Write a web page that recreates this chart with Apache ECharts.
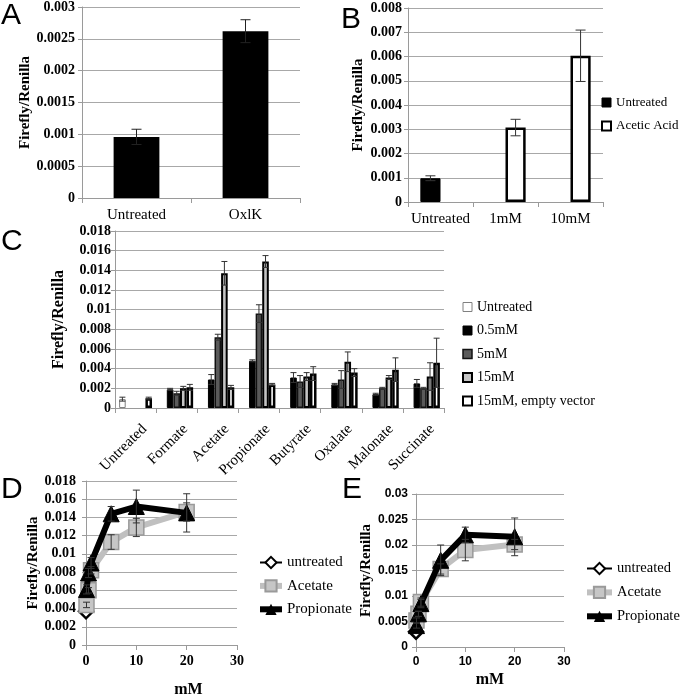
<!DOCTYPE html>
<html><head><meta charset="utf-8">
<script src="https://cdn.jsdelivr.net/npm/echarts@6/dist/echarts.min.js"></script>
<style>html,body{margin:0;padding:0;background:#fff}#c{width:680px;height:699px}</style>
</head><body><div id="c"></div>
<script>
// ---------- Panel A ----------
const aCategories = ['Untreated', 'OxlK'];
const aValues = [0.00096, 0.00262];
const aErrors = [0.00012, 0.00018];
// ---------- Panel B ----------
const bCategories = ['Untreated', '1mM', '10mM'];
const bUntreated = [0.00098, null, null];
const bUntreatedErr = [0.0001, null, null];
const bAcetic = [null, 0.00307, 0.00603];
const bAceticErr = [null, 0.00034, 0.00106];
// ---------- Panel C ----------
const cCategories = ['Untreated', 'Formate', 'Acetate', 'Propionate', 'Butyrate', 'Oxalate', 'Malonate', 'Succinate'];
const cSeriesNames = ['Untreated', '0.5mM', '5mM', '15mM', '15mM, empty vector'];
const cUntreated = [0.0009, null, null, null, null, null, null, null];
const cUntreatedErr = [0.0002, null, null, null, null, null, null, null];
const c05 = [null, 0.0019, 0.0029, 0.0048, 0.0031, 0.0024, 0.0014, 0.0025];
const c05Err = [null, 0.0001, 0.0005, 0.0001, 0.0005, 0.0001, 0.0001, 0.0004];
const c5 = [null, 0.0015, 0.0072, 0.0096, 0.0027, 0.0029, 0.0020, 0.0020];
const c5Err = [null, 0.0002, 0.0003, 0.0009, 0.0006, 0.0009, 0.0001, 0.0001];
const c15 = [null, 0.0020, 0.0137, 0.0149, 0.0032, 0.0047, 0.0031, 0.0032];
const c15Err = [null, 0.0002, 0.0012, 0.0006, 0.0004, 0.0010, 0.0002, 0.0014];
const cEmpty = [0.0010, 0.0021, 0.0021, 0.0024, 0.0035, 0.0036, 0.0039, 0.0046];
const cEmptyErr = [0.0001, 0.0003, 0.0002, 0.0001, 0.0007, 0.0004, 0.0012, 0.0025];
// ---------- Panel D ----------
const dX = [0.1, 0.5, 1, 5, 10, 20];
const dUntreatedX = [0];
const dUntreated = [0.0037];
const dAcetate = [0.0044, 0.0060, 0.0082, 0.0113, 0.0129, 0.0146];
const dAcetateErr = [0.0003, 0.0003, 0.0004, 0.0008, 0.0010, 0.0010];
const dPropionate = [0.0061, 0.0079, 0.0090, 0.0144, 0.0152, 0.0145];
const dPropionateErr = [0.0005, 0.0005, 0.0006, 0.0008, 0.0018, 0.0021];
// ---------- Panel E ----------
const eX = [0.1, 0.5, 1, 5, 10, 20];
const eUntreatedX = [0];
const eUntreated = [0.0030];
const eAcetate = [0.0052, 0.0065, 0.0088, 0.0153, 0.0190, 0.0201];
const eAcetateErr = [0.0005, 0.0005, 0.0008, 0.0010, 0.0021, 0.0010];
const ePropionate = [0.0042, 0.0065, 0.0085, 0.0170, 0.0220, 0.0216];
const ePropionateErr = [0.0005, 0.0005, 0.0008, 0.0030, 0.0015, 0.0037];

const SERIF = "'Liberation Serif','Times New Roman',serif";
const SANS = "'Liberation Sans',Arial,sans-serif";
const AXIS_GRAY = '#9a9a9a';
const GRID_GRAY = '#a8a8a8';

const fmt = v => String(+v.toFixed(6));

function yAxisCfg(grid, max, interval, o) {
  return {
    type: 'value', gridIndex: grid, min: 0, max: max, interval: interval,
    name: 'Firefly/Renilla', nameLocation: 'middle', nameGap: o.nameGap,
    nameTextStyle: {fontFamily: SERIF, fontWeight: 'bold', fontSize: o.nameSize || 15, color: '#000'},
    axisLine: {show: true, lineStyle: {color: AXIS_GRAY, width: 1}},
    axisTick: {show: true, length: 4, lineStyle: {color: AXIS_GRAY}},
    splitLine: {show: true, lineStyle: {color: GRID_GRAY, width: 1}},
    axisLabel: {fontFamily: o.font || SERIF, fontWeight: 'bold', fontSize: o.size || 14, color: '#000', margin: o.margin, formatter: fmt}
  };
}
function catAxisCfg(grid, data, o) {
  return {
    type: 'category', gridIndex: grid, data: data, boundaryGap: true,
    axisLine: {show: true, lineStyle: {color: AXIS_GRAY, width: 1}},
    axisTick: {show: true, length: 5, alignWithLabel: false, lineStyle: {color: AXIS_GRAY}},
    splitLine: {show: false},
    axisLabel: Object.assign({fontFamily: SERIF, fontSize: 15, color: '#000', margin: 10, interval: 0}, o || {})
  };
}
function valXAxisCfg(grid, o) {
  return {
    type: 'value', gridIndex: grid, min: 0, max: 30, interval: 10,
    name: 'mM', nameLocation: 'middle', nameGap: o.nameGap,
    nameTextStyle: {fontFamily: SERIF, fontWeight: 'bold', fontSize: 16, color: '#000', padding: o.namePad || 0},
    axisLine: {show: true, onZero: false, lineStyle: {color: AXIS_GRAY, width: 1}},
    axisTick: {show: true, length: 5, lineStyle: {color: AXIS_GRAY}},
    splitLine: {show: false},
    axisLabel: {fontFamily: o.font || SERIF, fontWeight: 'bold', fontSize: o.size || 14, color: '#000', margin: 9}
  };
}

function errData(xs, values, errs, slot, n, frac) {
  const out = [];
  values.forEach((v, i) => {
    if (v == null || errs[i] == null) return;
    out.push([xs ? xs[i] : i, v, errs[i], slot, n, frac]);
  });
  return out;
}
function errSeries(xi, data, cap, color, width) {
  return {
    type: 'custom', xAxisIndex: xi, yAxisIndex: xi, z: 10, clip: false, silent: true,
    data: data,
    renderItem: function (params, api) {
      const x = api.value(0), y = api.value(1), e = api.value(2);
      const slot = api.value(3), n = api.value(4), frac = api.value(5);
      const p = api.coord([x, y]);
      let cx = p[0];
      if (n > 0) {
        const bw = api.size([1, 0])[0];
        const gw = bw * frac;
        cx = p[0] - gw / 2 + (slot + 0.5) * gw / n;
      }
      const yt = api.coord([x, y + e])[1];
      const yb = api.coord([x, y - e])[1];
      const st = {stroke: color, lineWidth: width};
      return {type: 'group', children: [
        {type: 'line', shape: {x1: cx, y1: yt, x2: cx, y2: yb}, style: st},
        {type: 'line', shape: {x1: cx - cap / 2, y1: yt, x2: cx + cap / 2, y2: yt}, style: st},
        {type: 'line', shape: {x1: cx - cap / 2, y1: yb, x2: cx + cap / 2, y2: yb}, style: st}
      ]};
    }
  };
}
const pairs = (xs, ys) => ys.map((y, i) => [xs[i], y]);

const cStyles = [
  {color: '#ffffff', borderColor: '#808080', borderWidth: 1},
  {color: '#000000', borderColor: '#000000', borderWidth: 1},
  {color: '#5a5a5a', borderColor: '#111111', borderWidth: 1.5},
  {color: '#c4c4c4', borderColor: '#000000', borderWidth: 2},
  {color: '#ffffff', borderColor: '#000000', borderWidth: 2.5}
];
const cData = [cUntreated, c05, c5, c15, cEmpty];
const cErrs = [cUntreatedErr, c05Err, c5Err, c15Err, cEmptyErr];

const series = [];
// A
series.push({type: 'bar', name: 'OxlK bars', xAxisIndex: 0, yAxisIndex: 0, data: aValues, barWidth: '42%',
  itemStyle: {color: '#000'}});
series.push(errSeries(0, errData(null, aValues, aErrors, 0, 0, 0), 10, '#222', 1));
// B
series.push({type: 'bar', name: 'Untreated', xAxisIndex: 1, yAxisIndex: 1, data: bUntreated, barGap: '0%', barCategoryGap: '38%',
  itemStyle: {color: '#000', borderColor: '#000', borderWidth: 1}});
series.push({type: 'bar', name: 'Acetic Acid', xAxisIndex: 1, yAxisIndex: 1, data: bAcetic, barGap: '0%', barCategoryGap: '38%',
  itemStyle: {color: '#fff', borderColor: '#000', borderWidth: 2.5}});
series.push(errSeries(1, errData(null, bUntreated, bUntreatedErr, 0, 2, 0.62), 10, '#333', 1));
series.push(errSeries(1, errData(null, bAcetic, bAceticErr, 1, 2, 0.62), 10, '#333', 1));
// C
cData.forEach((d, i) => {
  series.push({type: 'bar', name: cSeriesNames[i], xAxisIndex: 2, yAxisIndex: 2, data: d,
    barGap: '0%', barCategoryGap: '20%', itemStyle: cStyles[i]});
});
cData.forEach((d, i) => {
  series.push(errSeries(2, errData(null, d, cErrs[i], i, 5, 0.8), 6, '#333', 1));
});
// D
series.push({type: 'line', name: 'untreated', xAxisIndex: 3, yAxisIndex: 3, clip: false, data: pairs(dUntreatedX, dUntreated),
  symbol: 'diamond', symbolSize: 14, lineStyle: {color: '#000', width: 2},
  itemStyle: {color: '#fff', borderColor: '#000', borderWidth: 2.5}, z: 3});
series.push({type: 'line', name: 'Acetate', xAxisIndex: 3, yAxisIndex: 3, clip: false, data: pairs(dX, dAcetate),
  symbol: 'rect', symbolSize: 15, lineStyle: {color: '#c0c0c0', width: 6},
  itemStyle: {color: '#c6c6c6', borderColor: '#9a9a9a', borderWidth: 1.5}, z: 4});
series.push({type: 'line', name: 'Propionate', xAxisIndex: 3, yAxisIndex: 3, clip: false, data: pairs(dX, dPropionate),
  symbol: 'triangle', symbolSize: 16, lineStyle: {color: '#000', width: 6},
  itemStyle: {color: '#000', borderColor: '#000'}, z: 5});
series.push(errSeries(3, errData(dX, dAcetate, dAcetateErr, 0, 0, 0), 7, '#333', 1));
series.push(errSeries(3, errData(dX, dPropionate, dPropionateErr, 0, 0, 0), 7, '#333', 1));
// E
series.push({type: 'line', name: 'untreated', xAxisIndex: 4, yAxisIndex: 4, clip: false, data: pairs(eUntreatedX, eUntreated),
  symbol: 'diamond', symbolSize: 14, lineStyle: {color: '#000', width: 2},
  itemStyle: {color: '#fff', borderColor: '#000', borderWidth: 2.5}, z: 3});
series.push({type: 'line', name: 'Acetate', xAxisIndex: 4, yAxisIndex: 4, clip: false, data: pairs(eX, eAcetate),
  symbol: 'rect', symbolSize: 15, lineStyle: {color: '#c0c0c0', width: 6},
  itemStyle: {color: '#c6c6c6', borderColor: '#9a9a9a', borderWidth: 1.5}, z: 4});
series.push({type: 'line', name: 'Propionate', xAxisIndex: 4, yAxisIndex: 4, clip: false, data: pairs(eX, ePropionate),
  symbol: 'triangle', symbolSize: 16, lineStyle: {color: '#000', width: 6},
  itemStyle: {color: '#000', borderColor: '#000'}, z: 5});
series.push(errSeries(4, errData(eX, eAcetate, eAcetateErr, 0, 0, 0), 7, '#333', 1));
series.push(errSeries(4, errData(eX, ePropionate, ePropionateErr, 0, 0, 0), 7, '#333', 1));

const lineLegend = (left, top, w, fs) => ({
  left: left, top: top, orient: 'vertical', padding: 0, itemGap: 23.4 - fs, itemWidth: w, itemHeight: 14,
  selectedMode: false, textStyle: {fontFamily: SERIF, fontSize: fs, color: '#000'},
  data: [
    {name: 'untreated', lineStyle: {width: 2, color: '#000'}},
    {name: 'Acetate', lineStyle: {width: 6, color: '#c0c0c0'}},
    {name: 'Propionate', lineStyle: {width: 6, color: '#000'}}
  ]
});

const option = {
  animation: false,
  backgroundColor: '#fff',
  grid: [
    {left: 82, top: 6, width: 218, height: 192},
    {left: 408, top: 8, width: 195, height: 194},
    {left: 115, top: 231, width: 329, height: 177},
    {left: 86, top: 481, width: 151, height: 165},
    {left: 416, top: 494, width: 148, height: 153}
  ],
  xAxis: [
    catAxisCfg(0, aCategories),
    catAxisCfg(1, bCategories),
    catAxisCfg(2, cCategories, {rotate: 45, margin: 10, verticalAlign: 'top', padding: [5, 0, 0, 0]}),
    valXAxisCfg(3, {nameGap: 37, namePad: [0, 0, 0, 54]}),
    valXAxisCfg(4, {nameGap: 25, font: SANS, size: 12})
  ],
  yAxis: [
    yAxisCfg(0, 0.003, 0.0005, {nameGap: 42, margin: 7}),
    yAxisCfg(1, 0.008, 0.001, {nameGap: 42, margin: 6}),
    yAxisCfg(2, 0.018, 0.002, {nameGap: 48, margin: 4, nameSize: 16}),
    yAxisCfg(3, 0.018, 0.002, {nameGap: 43, margin: 10}),
    yAxisCfg(4, 0.03, 0.005, {nameGap: 41, margin: 8, font: SANS, size: 12})
  ],
  legend: [
    {left: 601, top: 96, orient: 'vertical', padding: 0, itemGap: 10.5, itemWidth: 9, itemHeight: 9, icon: 'rect',
      selectedMode: false, textStyle: {fontFamily: SERIF, fontSize: 13, color: '#000'},
      data: [
        {name: 'Untreated', itemStyle: {color: '#000', borderColor: '#000', borderWidth: 1}},
        {name: 'Acetic Acid', itemStyle: {color: '#fff', borderColor: '#000', borderWidth: 2}}
      ]},
    {left: 462, top: 300, orient: 'vertical', padding: 0, itemGap: 9.5, itemWidth: 9, itemHeight: 9, icon: 'rect',
      selectedMode: false, textStyle: {fontFamily: SERIF, fontSize: 14, color: '#000'},
      data: cSeriesNames.map((n, i) => ({name: n, itemStyle: Object.assign({}, cStyles[i], {borderWidth: Math.min(cStyles[i].borderWidth, 2)})}))},
    lineLegend(257, 555, 22, 15),
    lineLegend(584, 561, 25, 14.5)
  ],
  graphic: [
    {type: 'text', left: 1, top: 1, style: {text: 'A', font: '30px ' + SANS, fill: '#000'}},
    {type: 'text', left: 341, top: 5, style: {text: 'B', font: '30px ' + SANS, fill: '#000'}},
    {type: 'text', left: 1, top: 227, style: {text: 'C', font: '30px ' + SANS, fill: '#000'}},
    {type: 'text', left: 1, top: 475, style: {text: 'D', font: '30px ' + SANS, fill: '#000'}},
    {type: 'text', left: 342, top: 475, style: {text: 'E', font: '30px ' + SANS, fill: '#000'}}
  ],
  series: series
};
const chart = echarts.init(document.getElementById('c'), null, {renderer: 'canvas'});
chart.setOption(option);
</script></body></html>
